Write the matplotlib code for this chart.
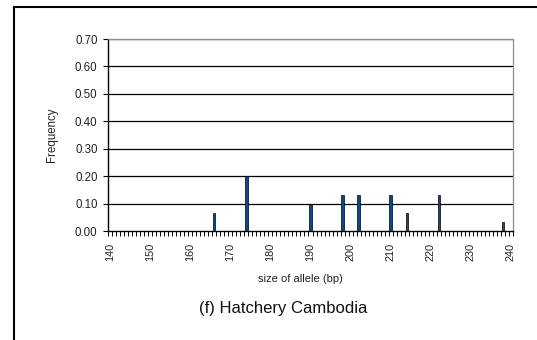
import matplotlib
matplotlib.use("Agg")
import matplotlib.pyplot as plt
from matplotlib.lines import Line2D
import numpy as np

# Allele sizes (bp) and their observed frequencies
allele_sizes = [166, 174, 190, 198, 202, 210, 214, 222, 238]
frequencies = [0.067, 0.200, 0.100, 0.133, 0.133, 0.133, 0.067, 0.133, 0.033]

size_min, size_max = 140, 240
x_tick_labels = list(range(140, 241, 10))
y_ticks = [0.0, 0.1, 0.2, 0.3, 0.4, 0.5, 0.6, 0.7]

plt.rcParams["font.family"] = ["Liberation Sans", "DejaVu Sans"]

W, H, DPI = 537, 340, 100
fig = plt.figure(figsize=(W / DPI, H / DPI), dpi=DPI)
fig.patch.set_facecolor("white")

# plot area in pixel terms
left, right, top, bottom = 108, 513, 39, 231
ax = fig.add_axes([left / W, 1 - bottom / H, (right - left) / W, (bottom - top) / H])

ax.bar(allele_sizes, frequencies, width=0.6, color="#0d4690",
       edgecolor="black", linewidth=0.5, zorder=3)

ax.set_xlim(size_min - 0.5, size_max + 0.5)
ax.set_ylim(0, 0.7)

# horizontal gridlines
ax.set_yticks(y_ticks)
ax.set_yticklabels([f"{v:.2f}" for v in y_ticks])
for v in y_ticks[1:]:
    ax.axhline(v, color="black", linewidth=0.9, zorder=1)

# category ticks between every allele size, labels every 10 bp
ax.set_xticks(x_tick_labels)
ax.set_xticklabels([str(v) for v in x_tick_labels], rotation=90)
ax.set_xticks(np.arange(size_min - 0.5, size_max + 1.0, 1.0), minor=True)
ax.tick_params(axis="x", which="major", length=0, pad=8.5, labelsize=7.8, colors="#222222")
ax.tick_params(axis="x", which="minor", length=3.5, width=0.7, direction="out", color="black")
ax.tick_params(axis="y", length=3.5, width=0.8, direction="out", labelsize=8.3,
               labelcolor="#222222", color="black", pad=4)

for side in ("top", "right"):
    ax.spines[side].set_color("#8c8c8c")
    ax.spines[side].set_linewidth(0.9)
for side in ("left", "bottom"):
    ax.spines[side].set_color("black")
    ax.spines[side].set_linewidth(1.0)

fig.text(52 / W, 1 - 135 / H, "Frequency", rotation=90, ha="center", va="center",
         fontsize=8.3, color="#222222")
fig.text(300 / W, 1 - 279 / H, "size of allele (bp)", ha="center", va="center",
         fontsize=8, color="#222222")
fig.text(283 / W, 1 - 308 / H, "(f) Hatchery Cambodia", ha="center", va="center",
         fontsize=12, color="#111111")

# outer frame on the left and top
fig.add_artist(Line2D([14 / W, 14 / W], [0, 1 - 7 / H], transform=fig.transFigure,
                      color="black", linewidth=1.5))
fig.add_artist(Line2D([14 / W, 1], [1 - 7 / H, 1 - 7 / H], transform=fig.transFigure,
                      color="black", linewidth=1.5))

fig.savefig("out.png", dpi=DPI)
